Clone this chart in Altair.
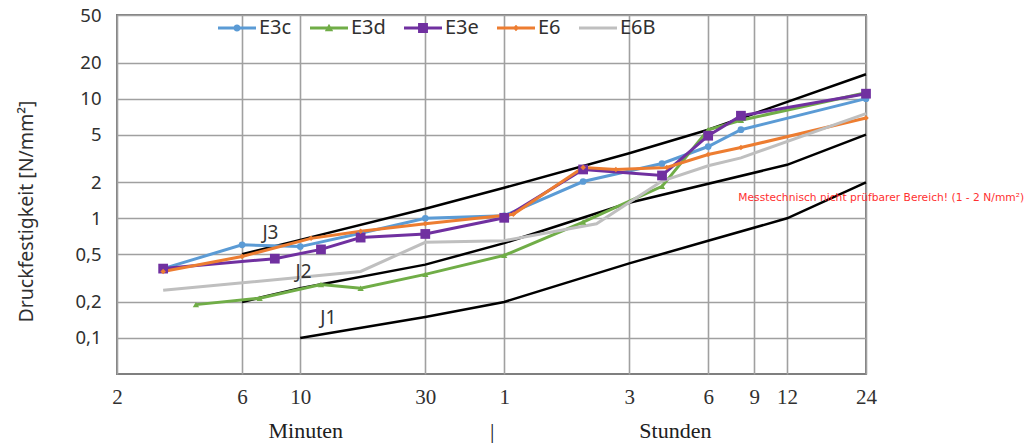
import altair as alt
import pandas as pd

# ---- measured series (time in minutes, strength in N/mm²) ----
series_names = ["E3c", "E3d", "E3e", "E6", "E6B"]
series_colors = ["#5B9BD5", "#70AD47", "#7030A0", "#ED7D31", "#BFBFBF"]

t_e3c = [3, 6, 10, 17, 30, 60, 120, 240, 360, 480, 1440]
v_e3c = [0.38, 0.60, 0.58, 0.75, 1.00, 1.05, 2.03, 2.87, 3.98, 5.5, 10.0]

t_e3d = [4, 7, 12, 17, 30, 60, 120, 240, 360, 480, 1440]
v_e3d = [0.19, 0.215, 0.28, 0.26, 0.34, 0.49, 0.93, 1.85, 5.5, 6.6, 11.2]

t_e3e = [3, 8, 12, 17, 30, 60, 120, 240, 360, 480, 1440]
v_e3e = [0.38, 0.46, 0.55, 0.69, 0.74, 1.01, 2.56, 2.28, 4.9, 7.2, 11.0]

t_e6 = [3, 6, 11, 17, 30, 65, 120, 160, 250, 360, 480, 1440]
v_e6 = [0.36, 0.48, 0.68, 0.78, 0.90, 1.08, 2.66, 2.56, 2.66, 3.41, 3.9, 6.9]

t_e6b = [3, 17, 30, 60, 135, 240, 360, 480, 1440]
v_e6b = [0.25, 0.36, 0.63, 0.65, 0.90, 2.05, 2.75, 3.2, 7.5]

# ---- limit curves J1 / J2 / J3 ----
t_j1 = [10, 30, 60, 180, 360, 720, 1440]
v_j1 = [0.10, 0.15, 0.20, 0.42, 0.65, 1.0, 2.0]

t_j2 = [6, 10, 30, 60, 180, 720, 1440]
v_j2 = [0.20, 0.26, 0.41, 0.62, 1.35, 2.8, 5.0]

t_j3 = [6, 10, 30, 60, 180, 360, 1440]
v_j3 = [0.50, 0.66, 1.2, 1.8, 3.5, 5.5, 16.0]

j_names = ["J1", "J2", "J3"]
j_label_t = [12.8, 10.3, 7.7]
j_label_v = [0.147, 0.355, 0.76]

# ---- axes ----
x_ticks = [2, 6, 10, 30, 60, 180, 360, 540, 720, 1440]
y_ticks = [0.1, 0.2, 0.5, 1, 2, 5, 10, 20, 50]

note_text = "Messtechnisch nicht prüfbarer Bereich! (1 - 2 N/mm²)"
note_t, note_v = 469, 1.48

unit_labels = ["Minuten", "|", "Stunden"]
unit_label_t = [10.5, 54, 270]

# legend glyphs: a short line with the series' marker on it
LINE = "M-1,-0.08L1,-0.08L1,0.08L-1,0.08Z"
legend_paths = [
    LINE + "M-0.19,0A0.19,0.19 0 1,1 0.19,0A0.19,0.19 0 1,1 -0.19,0Z",
    LINE + "M0,-0.22L0.22,0.17L-0.22,0.17Z",
    LINE + "M-0.26,-0.26L0.26,-0.26L0.26,0.26L-0.26,0.26Z",
    LINE + "M0,-0.17L0.17,0L0,0.17L-0.17,0Z",
    LINE,
]

series_t = [t_e3c, t_e3d, t_e3e, t_e6, t_e6b]
series_v = [v_e3c, v_e3d, v_e3e, v_e6, v_e6b]
rows = []
for name, ts, vs in zip(series_names, series_t, series_v):
    for i, (t, v) in enumerate(zip(ts, vs)):
        rows.append({"series": name, "t": t, "v": v, "i": i})
df = pd.DataFrame(rows)

jrows = []
for name, ts, vs in zip(j_names, [t_j1, t_j2, t_j3], [v_j1, v_j2, v_j3]):
    for i, (t, v) in enumerate(zip(ts, vs)):
        jrows.append({"curve": name, "t": t, "v": v, "i": i})
dfj = pd.DataFrame(jrows)
dfj_lab = pd.DataFrame({"curve": j_names, "t": j_label_t, "v": j_label_v})

x_scale = alt.Scale(type="log", domain=[2, 1440], nice=False)
y_scale = alt.Scale(type="log", domain=[0.05, 50], nice=False)
color_scale = alt.Scale(domain=series_names, range=series_colors)

X = alt.X(
    "t:Q", scale=x_scale, title=None,
    axis=alt.Axis(
        values=x_ticks, grid=True, ticks=False, domain=False,
        labelExpr="datum.value >= 60 ? format(datum.value / 60, 'd') : format(datum.value, 'd')",
        labelFont="Liberation Serif", labelFontSize=21, labelColor="#303030",
        labelPadding=12, labelFlush=False,
    ),
)
Y = alt.Y(
    "v:Q", scale=y_scale, title="Druckfestigkeit [N/mm²]",
    axis=alt.Axis(
        values=y_ticks, grid=True, ticks=False, domain=False,
        labelExpr="replace(toString(datum.value), '.', ',')",
        labelFont="Noto Sans", labelFontSize=18.5, labelColor="#303030",
        labelPadding=16, labelFlush=False,
        titleFont="Noto Sans", titleFontSize=19.5, titleFontWeight="normal",
        titleColor="#303030", titlePadding=38, titleY=196,
    ),
)

# invisible layer that only carries the legend (line + marker glyphs)
legend_def = alt.Legend(
    title=None, orient="none", direction="horizontal",
    legendX=101, legendY=-6, padding=0,
    symbolSize=1444, symbolOpacity=1, symbolStrokeWidth=0,
    labelFont="Noto Sans", labelFontSize=20, labelColor="#303030",
    labelOffset=3, columnPadding=18,
)
legend_layer = alt.Chart(df).mark_point(filled=True, opacity=0).encode(
    x=X, y=Y,
    color=alt.Color("series:N", scale=color_scale, legend=legend_def),
    shape=alt.Shape("series:N",
                    scale=alt.Scale(domain=series_names, range=legend_paths),
                    legend=legend_def),
)

j_lines = alt.Chart(dfj).mark_line(color="black", strokeWidth=2.5).encode(
    x="t:Q", y="v:Q", detail="curve:N", order="i:Q"
)
j_text = alt.Chart(dfj_lab).mark_text(
    font="Noto Sans", fontSize=19, color="#333333", align="center", baseline="middle"
).encode(x="t:Q", y="v:Q", text="curve:N")

lines = alt.Chart(df).mark_line(strokeWidth=3).encode(
    x="t:Q", y="v:Q", order="i:Q",
    color=alt.Color("series:N", scale=color_scale, legend=None),
)

marker_specs = [("E3c", "circle", 45), ("E3d", "triangle-up", 40),
                ("E3e", "square", 95), ("E6", "diamond", 30)]
marker_layers = [
    alt.Chart(df).transform_filter(alt.datum.series == name)
    .mark_point(shape=shape, filled=True, size=size, opacity=1)
    .encode(x="t:Q", y="v:Q",
            color=alt.Color("series:N", scale=color_scale, legend=None))
    for name, shape, size in marker_specs
]

note = alt.Chart(pd.DataFrame({"t": [note_t], "v": [note_v], "txt": [note_text]})).mark_text(
    font="DejaVu Sans", fontSize=10.7, color="#FF3030", align="left", baseline="middle"
).encode(x="t:Q", y="v:Q", text="txt:N")

units = alt.Chart(pd.DataFrame({"t": unit_label_t, "txt": unit_labels})).mark_text(
    font="Liberation Serif", fontSize=22, color="#202020", align="center", baseline="middle"
).encode(x="t:Q", y=alt.value(416), text="txt:N")

chart = alt.layer(
    legend_layer, j_lines, lines, *marker_layers, j_text, note, units
).properties(
    width=749, height=359,
    autosize=alt.AutoSizeParams(type="none"),
    padding={"left": 117, "top": 15, "right": 163, "bottom": 72},
).configure_view(
    stroke="#7f7f7f", strokeWidth=2
).configure_axis(
    gridColor="#a0a0a0", gridWidth=1.6
)

chart.save("out.html", embed_options={"renderer": "svg", "actions": False})
